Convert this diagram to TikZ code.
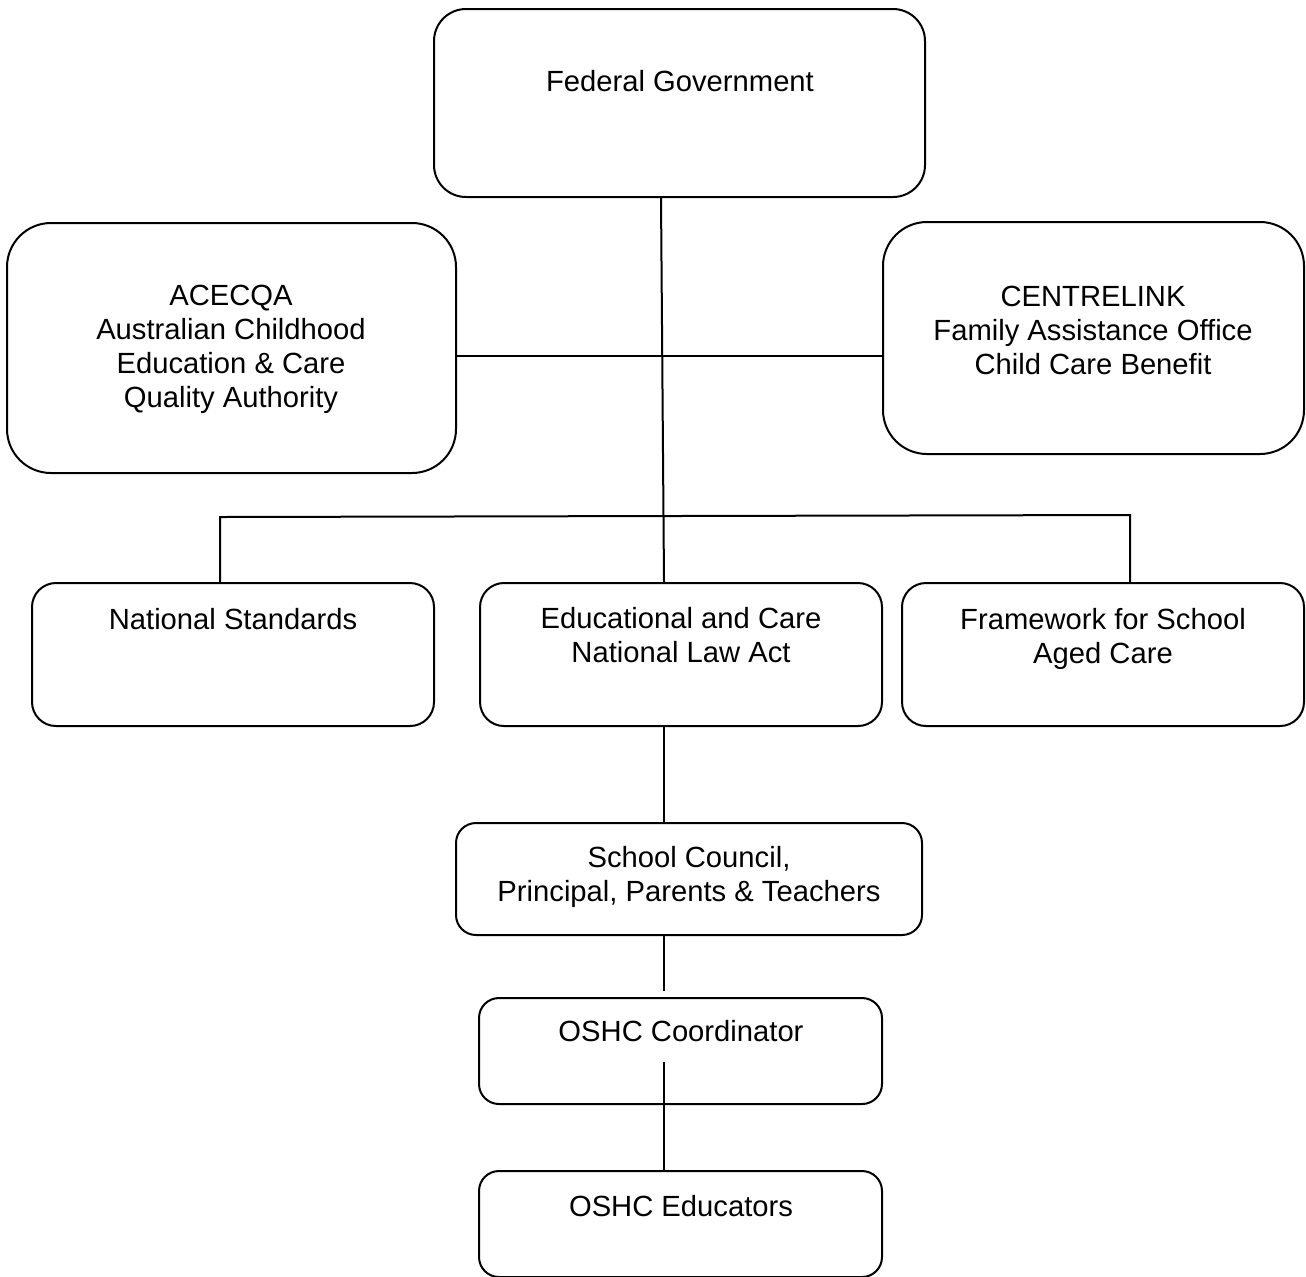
\documentclass[tikz,border=0pt]{standalone}
\usepackage{fontspec}
\setmainfont{Liberation Sans}
\begin{document}
\begin{tikzpicture}[x=0.5pt,y=-0.5pt,
  box/.style={draw=black, line width=1pt, fill=none, inner sep=0pt},
  txt/.style={font=\fontsize{14.6pt}{17pt}\selectfont, align=center, inner sep=0pt},
  conn/.style={draw=black, line width=1pt}]
\useasboundingbox (0,0) rectangle (1306,1276);
% boxes
\node[box, rounded corners=16pt, minimum width=245.5pt, minimum height=94pt] (fed) at (679.5,103) {};
\node[box, rounded corners=22pt, minimum width=224.5pt, minimum height=125pt] (ace) at (231.5,348) {};
\node[box, rounded corners=22pt, minimum width=210.5pt, minimum height=116pt] (cen) at (1093.5,338) {};
\node[box, rounded corners=12pt, minimum width=201pt, minimum height=71.5pt] (ns) at (233,654.5) {};
\node[box, rounded corners=12pt, minimum width=201pt, minimum height=71.5pt] (ed) at (681,654.5) {};
\node[box, rounded corners=12pt, minimum width=201pt, minimum height=71.5pt] (fw) at (1103,654.5) {};
\node[box, rounded corners=10pt, minimum width=233pt, minimum height=56pt] (sc) at (689,879) {};
\node[box, rounded corners=10pt, minimum width=201.5pt, minimum height=53pt] (co) at (680.5,1051) {};
\node[box, rounded corners=10pt, minimum width=201.5pt, minimum height=53pt] (edu) at (680.5,1224) {};
% texts
\node[txt] (fedt) at (680,81) {Federal Government};
\node[txt] (acet) at (231,349.5) {ACECQA\\Australian Childhood\\Education \& Care\\Quality Authority};
\node[txt] (cent) at (1093,330) {CENTRELINK\\Family Assistance Office\\Child Care Benefit};
\node[txt] (nst) at (233,619) {National Standards};
\node[txt] (edt) at (681,635) {Educational and Care\\National Law Act};
\node[txt] (fwt) at (1103,639) {Framework for School\\Aged Care};
\node[txt] (sct) at (689,877) {School Council,\\Principal, Parents \& Teachers};
\node[txt] (cot) at (681,1031) {OSHC Coordinator};
\node[txt] (edut) at (681,1206) {OSHC Educators};
% connectors
\coordinate (barL) at (220,517);
\coordinate (barR) at (1130,515);
\coordinate (scend) at (664,991);
\coordinate (costart) at (664,1062);
\draw[conn] (fed.south -| 661,0) -- (ed.north -| 664,0);
\draw[conn] (ace.east |- 0,356) -- (cen.west |- 0,356);
\draw[conn] (ns.north -| barL) -- (barL) -- (barR) -- (fw.north -| barR);
\draw[conn] (ed.south -| 664,0) -- (sc.north -| 664,0);
\draw[conn] (sc.south -| scend) -- (scend);
\draw[conn] (costart) -- (edu.north -| costart);
\end{tikzpicture}
\end{document}
